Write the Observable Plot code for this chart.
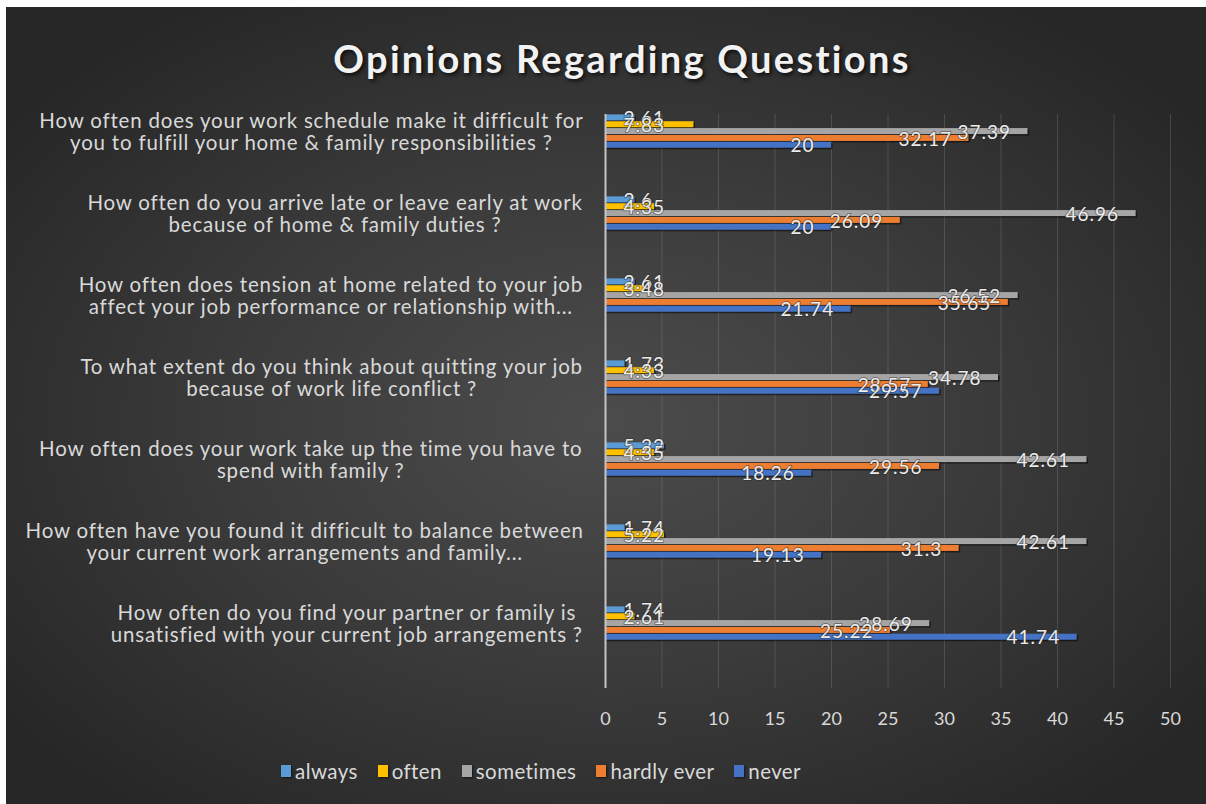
<!DOCTYPE html>
<html><head><meta charset="utf-8">
<script src="https://cdn.jsdelivr.net/npm/d3@7"></script>
<script src="https://cdn.jsdelivr.net/npm/@observablehq/plot@0.6"></script>
<style>
html,body{margin:0;padding:0;background:#fff;width:1206px;height:804px;overflow:hidden;}
#panel{position:absolute;left:6px;top:7px;width:1200px;height:797px;overflow:hidden;
  background:radial-gradient(ellipse 62% 62% at 50% 52%, #4c4c4c 0%, #3b3b3b 50%, #272727 100%);
  font-family:Lato,"Open Sans",sans-serif;}
#title{height:58px;padding-top:30px;padding-left:32px;text-align:center;font-size:38px;line-height:42px;
  font-weight:700;color:#f2f2f2;letter-spacing:2.3px;text-shadow:2px 2px 4px rgba(0,0,0,0.8);box-sizing:content-box;}
#chart svg{display:block;}
#legend{margin-top:21px;height:24px;display:flex;justify-content:center;align-items:center;padding-right:130px;
  font-size:20.5px;letter-spacing:0.4px;color:#d9d9d9;}
#legend .item{display:flex;align-items:center;margin:0 10px;}
#legend .sw{width:10px;height:12px;margin-right:4px;box-shadow:1px 1px 2px rgba(0,0,0,0.6);}
</style></head>
<body>
<div id="panel">
  <div id="title">Opinions Regarding Questions</div>
  <div id="chart"></div>
  <div id="legend"></div>
</div>
<script>
const questions = [
  "How often does your work schedule make it difficult for\nyou to fulfill your home & family responsibilities ?",
  "How often do you arrive late or leave early at work\nbecause of home & family duties ?",
  "How often does tension at home related to your job\naffect your job performance or relationship with...",
  "To what extent do you think about quitting your job\nbecause of work life conflict ?",
  "How often does your work take up the time you have to\nspend with family ?",
  "How often have you found it difficult to balance between\nyour current work arrangements and family...",
  "How often do you find your partner or family is\nunsatisfied with your current job arrangements ?"
];
const series = ["always", "often", "sometimes", "hardly ever", "never"];
const seriesColors = ["#5b9bd5", "#ffc000", "#a5a5a5", "#ed7d31", "#4472c4"];
const always     = [2.61, 2.6, 2.61, 1.73, 5.22, 1.74, 1.74];
const often      = [7.83, 4.35, 3.48, 4.33, 4.35, 5.22, 2.61];
const sometimes  = [37.39, 46.96, 36.52, 34.78, 42.61, 42.61, 28.69];
const hardlyEver = [32.17, 26.09, 35.65, 28.57, 29.56, 31.3, 25.22];
const never      = [20, 20, 21.74, 29.57, 18.26, 19.13, 41.74];
const xTicks = [0, 5, 10, 15, 20, 25, 30, 35, 40, 45, 50];

const seriesValues = [always, often, sometimes, hardlyEver, never];
const rows = [];
questions.forEach((q, i) => series.forEach((s, j) => rows.push({question: q, series: s, value: seriesValues[j][i]})));
const key = d => d.question + "|" + d.series;
// per question: 5 bar slots + 7 empty slots
const yDomain = questions.flatMap((q, i) => [
  ...series.map(s => q + "|" + s),
  ...d3.range(7).map(k => q + "|pad" + k)
]);

const FONT = "Lato";
const qFontSize = 20.5;
const qLetter = 0.8;
const ctx = document.createElement("canvas").getContext("2d");
ctx.font = `${qFontSize}px ${FONT}`;
const qWidth = q => d3.max(q.split("\n"), l => ctx.measureText(l).width + l.length * qLetter);

const qLabelMarks = questions.map(q => Plot.text([q], {
  text: d => d, y: d => d + "|sometimes", frameAnchor: "left", textAnchor: "middle",
  dx: -(22 + qWidth(q) / 2), lineHeight: 1.1, fontSize: qFontSize, fill: "#d9d9d9"
}));

const labelStyle = {fill: "#ececec", stroke: "#2a2a2a", strokeWidth: 2, strokeOpacity: 0.45, fontSize: 19};

const chart = Plot.plot({
  width: 1200, height: 643,
  marginLeft: 599, marginRight: 36, marginTop: 19, marginBottom: 50,
  style: {background: "transparent", color: "#d9d9d9", fontFamily: FONT, fontSize: "17px", overflow: "visible"},
  x: {domain: [0, 50], ticks: xTicks, label: null},
  y: {domain: yDomain, padding: 0, axis: null},
  color: {domain: series, range: seriesColors},
  marks: [
    Plot.gridX(xTicks, {stroke: "#a0a0a0", strokeOpacity: 0.25}),
    Plot.axisX(xTicks, {tickSize: 0, tickPadding: 24, fontSize: 18, fill: "#d9d9d9", label: null}),
    Plot.barX(rows, {x: "value", y: key, fill: "#000", fillOpacity: 0.5, dx: 1.5, dy: 1.5, insetTop: 0.4, insetBottom: 0.4}),
    Plot.barX(rows, {x: "value", y: key, fill: "series", insetTop: 0.4, insetBottom: 0.4}),
    Plot.ruleX([0], {stroke: "#c4c4c4", strokeWidth: 2}),
    Plot.text(rows.filter(d => d.value >= 10), {
      x: "value", y: key, text: d => String(d.value), textAnchor: "end", dx: -17, dy: 1,
      ...labelStyle
    }),
    Plot.text(rows.filter(d => d.value < 10), {
      x: d => 0, y: key, text: d => String(d.value), textAnchor: "start", dx: 18, dy: 1,
      ...labelStyle
    }),
    ...qLabelMarks
  ]
});
chart.querySelectorAll("g[aria-label='text'] text").forEach(t => {
  if (/^\d+(\.\d+)?$/.test(t.textContent)) t.style.letterSpacing = "1px";
  else if (t.textContent.length > 20) t.style.letterSpacing = qLetter + "px";
});
document.getElementById("chart").appendChild(chart);

const legend = document.getElementById("legend");
series.forEach((s, i) => {
  const item = document.createElement("div");
  item.className = "item";
  const sw = document.createElement("span");
  sw.className = "sw";
  sw.style.background = seriesColors[i];
  const t = document.createElement("span");
  t.textContent = s;
  item.appendChild(sw); item.appendChild(t);
  legend.appendChild(item);
});
</script>
</body></html>
